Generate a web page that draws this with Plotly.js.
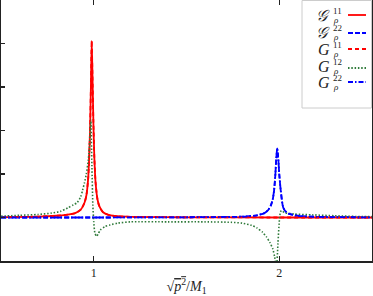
<!DOCTYPE html>
<html>
<head>
<meta charset="utf-8">
<script src="https://cdn.plot.ly/plotly-2.35.2.min.js"></script>
<style>html,body{margin:0;padding:0;background:#fff}#chart{width:373px;height:296px}</style>
</head>
<body>
<div id="chart"></div>
<script>
// ---- data ----
const xRed = [0.5, 0.7, 0.8, 0.85, 0.9, 0.93, 0.95, 0.96, 0.97, 0.975, 0.98, 0.985, 0.989, 0.993, 0.998, 1.003, 1.01, 1.02, 1.03, 1.05, 1.08, 1.13, 1.2, 1.5, 2.0, 2.5];
const yRed = [0.01, 0.02, 0.04, 0.06, 0.10, 0.18, 0.34, 0.50, 0.90, 1.35, 2.0, 3.1, 4.06, 3.3, 2.2, 1.4, 0.8, 0.42, 0.26, 0.12, 0.06, 0.03, 0.015, 0.005, 0.0, 0.0];

const xBlue = [0.5, 1.0, 1.5, 1.8, 1.88, 1.92, 1.94, 1.955, 1.965, 1.972, 1.978, 1.984, 1.989, 1.994, 2.0, 2.008, 2.02, 2.03, 2.05, 2.1, 2.2, 2.5];
const yBlue = [0.0, 0.0, 0.005, 0.02, 0.05, 0.10, 0.17, 0.28, 0.42, 0.62, 0.92, 1.35, 1.59, 1.4, 1.0, 0.62, 0.25, 0.16, 0.09, 0.04, 0.015, 0.004];

const xGreen = [0.5, 0.6, 0.7, 0.77, 0.82, 0.86, 0.89, 0.91, 0.93, 0.94, 0.95, 0.96, 0.97, 0.976, 0.984, 0.99, 0.995, 1.0, 1.006, 1.015, 1.025, 1.035, 1.06, 1.088, 1.13, 1.2, 1.4, 1.6, 1.74, 1.8, 1.85, 1.88, 1.91, 1.93, 1.95, 1.965, 1.975, 1.985, 1.993, 2.0, 2.006, 2.012, 2.03, 2.08, 2.18, 2.3, 2.45, 2.5];
const yGreen = [0.03, 0.05, 0.07, 0.10, 0.14, 0.22, 0.29, 0.34, 0.48, 0.63, 0.80, 1.0, 1.30, 1.6, 2.24, 1.2, 0.3, -0.1, -0.35, -0.43, -0.37, -0.29, -0.21, -0.17, -0.13, -0.1, -0.1, -0.1, -0.11, -0.13, -0.18, -0.24, -0.34, -0.44, -0.58, -0.72, -0.9, -1.15, -0.6, -0.1, 0.12, 0.16, 0.11, 0.08, 0.06, 0.04, 0.02, 0.02];

const xTicks = [1, 2];
const xTickText = ['1', '2'];
const yTicks = [0, 1, 2, 3, 4];

const names = ['𝒢<sup>11</sup><sub>ρ</sub>', '𝒢<sup>22</sup><sub>ρ</sub>', 'G<sup>11</sup><sub>ρ</sub>', 'G<sup>12</sup><sub>ρ</sub>', 'G<sup>22</sup><sub>ρ</sub>'];
const mainLetters = ['𝒢', '𝒢', 'G', 'G', 'G'];
const supLabels = ['11', '22', '11', '12', '22'];
const colors = ['#ff0000', '#0000ff', '#ff0000', '#2f7a3a', '#0000ff'];
const dashes = ['solid', '5px,2px', '4px,3px', '1.5px,1.8px', '5px,2px,1.5px,2px'];

// ---- traces ----
const series = [
  {x: xRed, y: yRed},
  {x: xBlue, y: yBlue},
  {x: xRed, y: yRed},
  {x: xGreen, y: yGreen},
  {x: xBlue, y: yBlue}
];
const traces = series.map((s, i) => ({
  x: s.x, y: s.y, type: 'scatter', mode: 'lines', name: names[i],
  line: {color: colors[i], width: i === 3 ? 1.6 : 1.8, dash: dashes[i], shape: 'spline', smoothing: 0.6},
  showlegend: false, hoverinfo: 'skip'
}));

// ---- manual legend (label left, line sample right) ----
const W = 371, H = 261, L = 1;
const px = v => (v - L) / W;
const py = v => (H - v) / H;
const rowY = [15, 32, 49, 66, 82];
const lineY = [15, 33, 49, 68, 82];
const shapes = [{
  type: 'rect', xref: 'paper', yref: 'paper',
  x0: px(302), x1: px(371.5), y0: py(108), y1: py(0.5),
  line: {color: '#cccccc', width: 1}, fillcolor: 'rgba(255,255,255,1)', layer: 'above'
}];
const annotations = [];
const serif = 'Liberation Serif, DejaVu Serif, serif';
for (let i = 0; i < 5; i++) {
  shapes.push({type: 'line', xref: 'paper', yref: 'paper', x0: px(348), x1: px(366), y0: py(lineY[i]), y1: py(lineY[i]),
    line: {color: colors[i], width: 1.8, dash: dashes[i]}, layer: 'above'});
  annotations.push({xref: 'paper', yref: 'paper', x: px(331), y: py(rowY[i]), xanchor: 'right', yanchor: 'middle',
    text: '<i>' + mainLetters[i] + '</i>', showarrow: false, borderpad: 0, font: {family: serif, size: 16, color: '#222'}});
  annotations.push({xref: 'paper', yref: 'paper', x: px(332), y: py(rowY[i] - 4), xanchor: 'left', yanchor: 'middle',
    text: supLabels[i], showarrow: false, borderpad: 0, font: {family: serif, size: 9, color: '#222'}});
  annotations.push({xref: 'paper', yref: 'paper', x: px(332), y: py(rowY[i] + 5), xanchor: 'left', yanchor: 'middle',
    text: '<i>ρ</i>', showarrow: false, borderpad: 0, font: {family: serif, size: 9, color: '#222'}});
}

const layout = {
  width: 373, height: 296,
  margin: {l: 1, r: 1, t: 0, b: 35},
  paper_bgcolor: '#fff', plot_bgcolor: '#fff',
  showlegend: false,
  font: {family: serif, color: '#222'},
  xaxis: {
    range: [0.5, 2.5], tickvals: xTicks, ticktext: xTickText,
    ticks: 'inside', ticklen: 5, tickwidth: 1.2, tickcolor: '#222',
    showline: true, linecolor: '#222', linewidth: 1.8, mirror: 'ticks',
    showgrid: false, zeroline: false,
    tickfont: {family: serif, size: 12, color: '#222'},
    title: {text: '√<span style="text-decoration:overline"><i>p</i><sup>2</sup></span>/<i>M</i><sub>1</sub>', font: {family: serif, size: 14, color: '#222'}, standoff: 4}
  },
  yaxis: {
    range: [-1, 5], tickvals: yTicks, showticklabels: false,
    ticks: 'inside', ticklen: 4, tickwidth: 1.2, tickcolor: '#222',
    showline: true, linecolor: '#222', linewidth: 1.8, mirror: true,
    showgrid: false, zeroline: false
  },
  shapes: shapes,
  annotations: annotations
};

Plotly.newPlot('chart', traces, layout, {staticPlot: true, displayModeBar: false});
</script>
</body>
</html>
